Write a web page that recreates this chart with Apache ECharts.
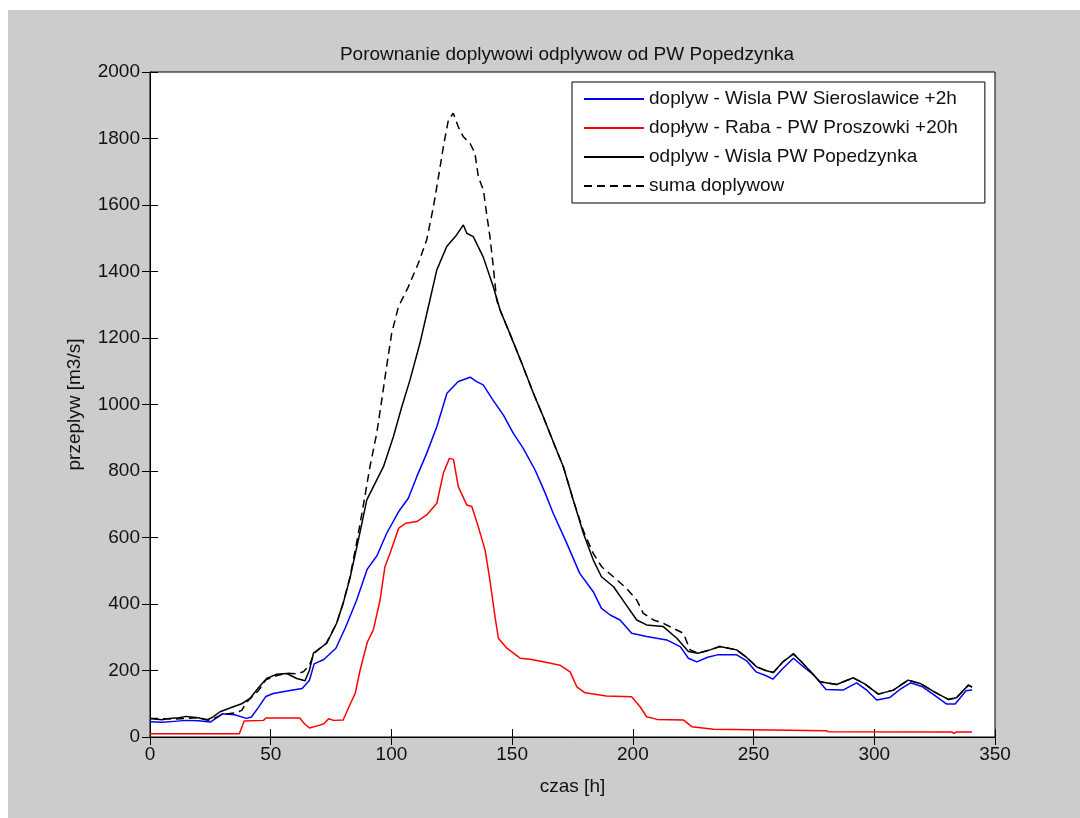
<!DOCTYPE html>
<html>
<head>
<meta charset="utf-8">
<script src="https://cdn.jsdelivr.net/npm/echarts@6/dist/echarts.min.js"></script>
<style>
  html, body { margin: 0; padding: 0; background: #fff; }
  #bg { position: absolute; left: 8px; top: 10px; width: 1072px; height: 808px; background: #cccccc; }
  #chart { position: absolute; left: 0; top: 0; width: 1080px; height: 818px; }
</style>
</head>
<body>
<div id="bg"></div>
<div id="chart"></div>
<script>
// [czas h, przeplyw m3/s]
const sieroslawice = [
  [0,46],[5,44],[10,47],[15,50],[20,49],[25,45],[28,60],[30,70],[35,67],[40,56],[42,60],[45,90],
  [48,122],[51,131],[58,140],[63,146],[66,170],[68,220],[72,233],[77,267],[81,330],[85.5,410],
  [90,505],[94,545],[98,612],[103,678],[107,718],[110.5,783],[114.6,853],[118.8,933],[123,1034],
  [127.7,1069],[132.6,1082],[135.3,1069],[138,1059],[142,1014],[146.4,968],[150.5,913],[154.6,868],
  [159.5,803],[163.6,735],[167,673],[172.6,583],[178,492],[183.6,437],[187,387],[190.6,367],
  [194.7,352],[199.5,312],[205.7,302],[214,292],[219.6,272],[223,237],[226.5,226],[231,240],
  [235,247],[243,247],[247,230],[251,196],[255,185],[258,174],[262,205],[266.5,237],[270,215],
  [275,186],[280,143],[287,141],[292.7,163],[297,140],[301,111],[306.5,119],[311,145],[315,163],
  [320,151],[325,125],[330,99],[333.5,99],[338,139],[340.5,141]
];

const proszowki = [
  [0,10],[37,10],[39,48],[47,50],[48,57],[62,57],[64,40],[66,27],[70,35],[72,40],[74,55],[76,50],
  [80,51],[83,100],[85,131],[87,200],[90,285],[92.5,322],[95.3,412],[97.3,512],[99.4,552],
  [103,628],[106,643],[110.5,648],[114.6,668],[118.8,703],[121.5,793],[124,838],[125.7,835],
  [127.7,753],[131.2,698],[133.3,693],[136,632],[138.8,562],[140.8,472],[142.9,362],[144.3,297],
  [147.8,267],[153.3,237],[157.4,234],[162.9,226],[169.8,216],[174,196],[176.8,151],[180.2,133],
  [189,123],[199.5,121],[203,91],[205.7,61],[210,53],[221,51],[224.4,31],[233.4,23],[280,19],
  [281,16],[332,15],[333,11],[334,15],[340.5,15]
];

const popedzynka = [
  [0,56],[5,52],[8,56],[12,58],[15,62],[20,58],[23.5,51],[26,60],[29,76],[34.5,91],[38,100],
  [41.4,116],[45,149],[48.3,176],[52.5,189],[56.6,191],[60.8,176],[64.2,169],[66,200],[67.7,252],
  [73.2,282],[77.3,342],[80,402],[82.8,477],[86.3,592],[89.8,713],[93,760],[96.7,813],[100.8,903],
  [104.3,993],[107.7,1074],[111.8,1184],[115.3,1294],[118.8,1405],[122.9,1475],[127,1510],
  [129.8,1540],[131.2,1515],[133.9,1505],[138,1444],[142.2,1354],[145,1284],[149,1214],[154,1124],
  [158.8,1034],[162.9,963],[168,870],[171.2,813],[175.3,713],[179.5,613],[183.6,532],[187,482],
  [192,452],[196.8,402],[201.6,352],[205.7,337],[212.6,332],[218.2,297],[223,257],[227,252],
  [232,262],[236,272],[243,262],[247,240],[251.3,211],[255,200],[258.2,194],[262,225],[266.5,250],
  [270,225],[277.5,166],[284.4,158],[291.3,178],[296,160],[301.7,129],[307.9,141],[314,171],
  [319,161],[325,135],[330.7,113],[334,118],[339,156],[340.5,150]
];

const suma = [
  [0,56],[10,54],[20,58],[25,50],[30,68],[35,72],[38,80],[40,105],[45,140],[48,172],[52.5,185],
  [57,192],[61,190],[63.5,196],[66,215],[68,252],[73,282],[77.3,342],[80,402],[82.8,480],[86,600],
  [89,723],[91.1,813],[93.9,913],[96,1014],[98,1114],[100.1,1214],[102.9,1294],[107,1354],
  [111.1,1424],[114.6,1495],[117.4,1595],[119.5,1685],[121.5,1775],[123.6,1856],[125.6,1876],
  [127.7,1835],[129.8,1805],[132.6,1785],[134.6,1755],[136,1685],[138.1,1645],[139.4,1575],
  [140.8,1505],[142.2,1414],[143.6,1314],[145,1284],[149,1214],[154,1124],[158.8,1034],[162.9,963],
  [168,870],[171.2,813],[175.3,713],[179.5,620],[183.6,552],[187.1,512],[191.9,482],[197.4,447],
  [201.6,412],[204.3,372],[208.5,352],[212.6,342],[216.7,327],[220.9,312],[223.7,262],[227,252],
  [232,262],[236,272],[243,262],[247,240],[251.3,211],[255,200],[258.2,194],[262,225],[266.5,250],
  [270,225],[277.5,166],[284.4,158],[291.3,178],[296,160],[301.7,129],[307.9,141],[314,171],
  [319,161],[325,135],[330.7,113],[334,118],[339,156],[340.5,150]
];

const names = [
  'doplyw - Wisla PW Sieroslawice +2h',
  'dopływ - Raba - PW Proszowki +20h',
  'odplyw - Wisla PW Popedzynka',
  'suma doplywow'
];

const FONT = 'Liberation Sans';
const FS = 19;
const ink = '#111';

const chart = echarts.init(document.getElementById('chart'), null, { renderer: 'canvas' });

const baseAxis = {
  axisLine: { show: true, lineStyle: { color: '#000', width: 1 } },
  axisTick: { show: true, inside: true, length: 8, lineStyle: { color: '#000', width: 1 } },
  splitLine: { show: false }
};

chart.setOption({
  animation: false,
  backgroundColor: 'transparent',
  textStyle: { fontFamily: FONT },
  title: {
    text: 'Porownanie doplywowi odplywow od PW Popedzynka',
    left: 562, top: 40, textAlign: 'center',
    textStyle: { fontFamily: FONT, fontSize: FS, fontWeight: 'normal', color: ink }
  },
  grid: {
    left: 150, top: 72, right: 85, bottom: 81,
    show: true, backgroundColor: '#fff', borderColor: '#000', borderWidth: 1
  },
  legend: {
    orient: 'vertical', left: 572, top: 82,
    padding: [7, 27, 7, 11],
    itemWidth: 60, itemHeight: 14, itemGap: 9,
    itemStyle: { opacity: 0 },
    backgroundColor: '#fff', borderColor: '#000', borderWidth: 1,
    textStyle: { fontFamily: FONT, fontSize: FS, color: ink, lineHeight: 20 },
    data: names
  },
  xAxis: [
    Object.assign({
      type: 'value', min: 0, max: 350, interval: 50,
      name: 'czas [h]', nameLocation: 'middle', nameGap: 40,
      nameTextStyle: { fontFamily: FONT, fontSize: FS, color: ink },
      axisLabel: { fontFamily: FONT, fontSize: FS, color: ink, margin: 8, formatter: v => String(v) }
    }, baseAxis),
    Object.assign({
      type: 'value', min: 0, max: 350, interval: 50, position: 'top',
      axisLabel: { show: false }
    }, baseAxis)
  ],
  yAxis: [
    Object.assign({
      type: 'value', min: 0, max: 2000, interval: 200,
      name: 'przeplyw [m3/s]', nameLocation: 'middle', nameGap: 66, nameRotate: 90,
      nameTextStyle: { fontFamily: FONT, fontSize: FS, color: ink },
      axisLabel: { fontFamily: FONT, fontSize: FS, color: ink, margin: 10, formatter: v => String(v) }
    }, baseAxis),
    Object.assign({
      type: 'value', min: 0, max: 2000, interval: 200, position: 'right',
      axisLabel: { show: false }
    }, baseAxis)
  ],
  series: [
    { name: names[0], type: 'line', data: sieroslawice, symbol: 'none', lineStyle: { color: '#0000ff', width: 1.5 }, itemStyle: { color: '#0000ff' } },
    { name: names[1], type: 'line', data: proszowki, symbol: 'none', lineStyle: { color: '#ff0000', width: 1.5 }, itemStyle: { color: '#ff0000' } },
    { name: names[2], type: 'line', data: popedzynka, symbol: 'none', lineStyle: { color: '#000', width: 1.5 }, itemStyle: { color: '#000' } },
    { name: names[3], type: 'line', data: suma, symbol: 'none', lineStyle: { color: '#000', width: 1.5, type: [8, 5] }, itemStyle: { color: '#000' } }
  ]
});
</script>
</body>
</html>
